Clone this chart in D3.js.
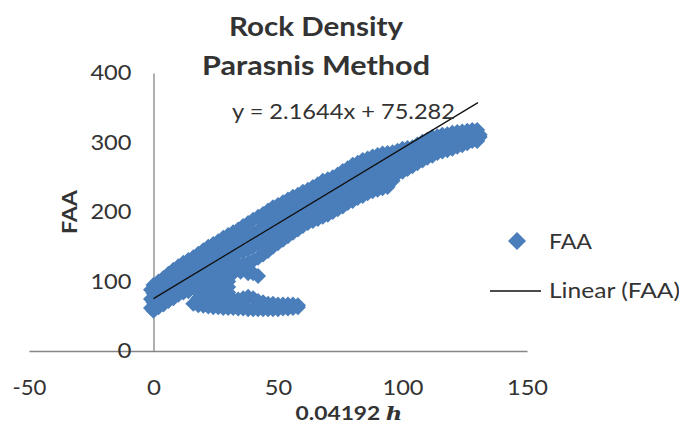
<!DOCTYPE html>
<html><head><meta charset="utf-8">
<script src="https://cdnjs.cloudflare.com/ajax/libs/d3/7.8.5/d3.min.js"></script>
<style>html,body{margin:0;padding:0;background:#fff}svg{display:block}text{font-family:Lato,"Open Sans",sans-serif;fill:#333}</style>
</head><body><svg id="c" width="679" height="425"></svg>
<script>
const titleLines = ["Rock Density","Parasnis Method"];
const seriesName = "FAA";
const trendName = "Linear (FAA)";
const equation = "y = 2.1644x + 75.282";
const xTicks = [-50,0,50,100,150];
const yTicks = [0,100,200,300,400];
const trendX = [0,130.3];
const trendY = [75.3,357.3];

const rowAX = [0,4,8,12,16,20,24,28,32,36,40,44,48,52,56,60,64,68,72,76,80,84,88,92,96,100,104,108,112,116,120,124,128];
const rowBX = [2,6,10,14,18,22,26,30,34,38,42,46,50,54,58,62,66,70,74,78,82,86,90,94,98,102,106,110,114,118,122,126,130];
const topAY  = [95,105,117,127,135,145,154,163,171,180,189,197,207,214,222,229,236,245,250,259,268,275,280,284,286,291,293,301,308,311,314,316,318];
const topBY  = [100,111,122,131,140,150,158,167,175,184,193,202,210,218,225,232,240,247,254,263,271,277,282,285,288,292,297,304,309,312,315,317,318];
const midUpperAY = [83,92,103,113,121,130,139,147,154,162,169,178,188,196,205,213,220,228,233,242,251,258,263,267,272,280,284,292,299,303,306,309,313];
const midUpperBY = [88,98,108,116,126,135,143,150,158,165,173,183,192,200,208,216,223,230,237,246,254,260,265,269,277,282,288,295,301,304,308,311,314];
const midLowerAY = [70,80,90,98,106,115,123,130,137,143,150,158,169,178,187,196,203,210,217,225,233,240,247,251,259,269,275,283,290,295,299,303,307];
const midLowerBY = [75,85,95,101,112,120,127,134,141,146,154,163,173,183,192,200,207,213,221,230,237,244,249,252,266,272,279,287,293,297,301,305,310];
const bottomAY = [58,67,76,84,92,101,108,114,120,125,130,139,150,160,170,180,187,193,200,208,216,223,230,234,245,258,266,274,281,287,291,296,302];
const bottomBY = [63,72,81,86,98,105,112,117,124,127,134,144,155,165,175,184,190,196,204,213,220,227,232,236,255,262,270,278,285,289,294,299,306];
const startX = [-1,-1,-1];
const startY = [62,75,88];
const tipX = [131,131,130];
const tipY = [308,311,302];
const lobeLowX = [16,18,20,22,24,26,28,30,32,34,36,38,40,42,44,46,48,50,52,54,56,58];
const lobeLowY = [68,66,65,64,63,63,62,62,62,61,61,60,60,60,60,60,60,60,61,61,62,63];
const lobeMidX = [18,20,22,24,26,28,30,32,34,36,38,40,42,44,46,48,50,52,54,56,58];
const lobeMidY = [76,75,74,74,74,74,74,74,74,76,78,76,72,70,68,68,67,67,67,67,66];
const lobeFillX = [18,20,22,24,26,28,30,18,20,22,24,26,28,30,20,22,24,26,28,30,22,24,26,28,30];
const lobeFillY = [84,84,84,84,84,84,84,92,92,92,92,92,92,92,100,100,100,100,100,100,108,108,108,108,108];
const spurX = [32,35,38,34,36,38,40,42];
const spurY = [112,114,112,124,120,116,112,108];

const blue = "#4a7ebb", axisGray = "#868686";
const svg = d3.select("#c");
const x = d3.scaleLinear().domain([-50,150]).range([29,527]);
const y = d3.scaleLinear().domain([0,400]).range([351,73]);

const zip = (xs,ys)=>xs.map((v,i)=>[v,ys[i]]);
const pts = [
  ...zip(rowAX,topAY),...zip(rowBX,topBY),
  ...zip(rowAX,midUpperAY),...zip(rowBX,midUpperBY),
  ...zip(rowAX,midLowerAY),...zip(rowBX,midLowerBY),
  ...zip(rowAX,bottomAY),...zip(rowBX,bottomBY),
  ...zip(startX,startY),...zip(tipX,tipY),
  ...zip(lobeLowX,lobeLowY),...zip(lobeMidX,lobeMidY),
  ...zip(lobeFillX,lobeFillY),...zip(spurX,spurY)
];
const diamond = r => `M0,${-r}L${r},0L0,${r}L${-r},0Z`;
const tickW = d => d===0 ? 14 : (d<0 ? 34 : String(d).length*13.7);
const fit = (sel,w) => sel.attr("textLength",w).attr("lengthAdjust","spacingAndGlyphs");

const ax = svg.append("g").attr("transform",`translate(0,${y(0)})`)
  .call(d3.axisBottom(x).tickValues(xTicks).tickSize(0).tickPadding(28).tickFormat(String));
const ay = svg.append("g").attr("transform",`translate(${x(0)},0)`)
  .call(d3.axisLeft(y).tickValues(yTicks).tickSize(0).tickPadding(22).tickFormat(String));
[ax,ay].forEach(g=>{
  g.select(".domain").attr("stroke",axisGray).attr("stroke-width",1.3);
  g.selectAll("text").attr("font-size",21).style("font-family","Lato").style("fill","#333")
    .attr("textLength",tickW).attr("lengthAdjust","spacingAndGlyphs");
});
ax.selectAll("text").attr("dy","0.32em").attr("y",37);

svg.append("g").selectAll("path").data(pts).join("path")
  .attr("d",diamond(8)).attr("fill",blue)
  .attr("transform",d=>`translate(${x(d[0])},${y(d[1])})`);

svg.append("path").attr("fill","none").attr("stroke","#111").attr("stroke-width",1.3)
  .attr("d",d3.line().x(d=>x(d[0])).y(d=>y(d[1]))(zip(trendX,trendY)));

const titleW = [174,228];
svg.append("g").selectAll("text").data(titleLines).join("text")
  .attr("x",316).attr("y",(d,i)=>i?75:36).attr("text-anchor","middle")
  .attr("font-size",27).attr("font-weight",700)
  .attr("textLength",(d,i)=>titleW[i]).attr("lengthAdjust","spacingAndGlyphs").text(d=>d);

fit(svg.append("text").attr("x",232).attr("y",119).attr("font-size",21),223).text(equation);

fit(svg.append("text").attr("transform","translate(77,212) rotate(-90)").attr("text-anchor","middle")
  .attr("font-size",21).attr("font-weight",700),44).text(seriesName);

const xt = svg.append("text").attr("transform","translate(349,420) scale(1.2,1)").attr("text-anchor","middle")
  .attr("font-size",19).attr("font-weight",700);
xt.append("tspan").text("0.04192 ");
xt.append("tspan").attr("font-style","italic").style("font-family","'DejaVu Serif',serif").text("h");

svg.append("path").attr("d",diamond(9)).attr("fill",blue).attr("transform","translate(517,241)");
fit(svg.append("text").attr("x",549).attr("y",249).attr("font-size",21),43).text(seriesName);
svg.append("line").attr("x1",490).attr("x2",541).attr("y1",291).attr("y2",291).attr("stroke","#111").attr("stroke-width",1.3);
fit(svg.append("text").attr("x",549).attr("y",298).attr("font-size",21),131).text(trendName);
</script></body></html>
